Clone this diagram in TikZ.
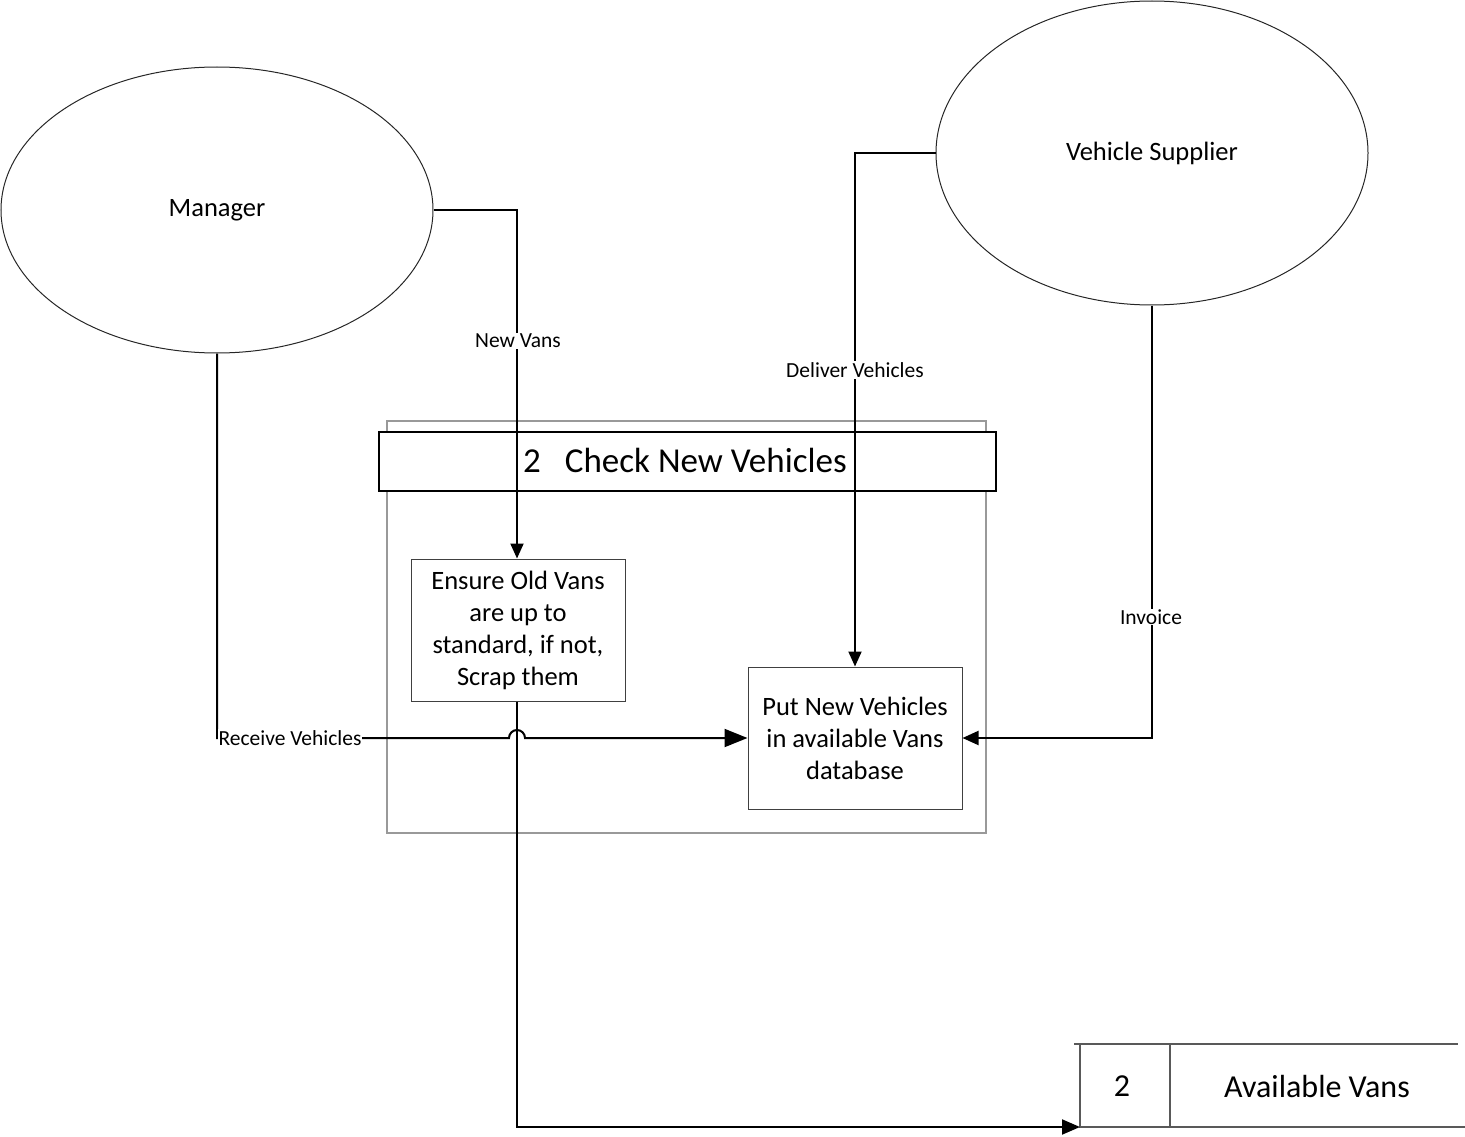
\documentclass[tikz,border=0pt]{standalone}
\usepackage{fontspec}
\setmainfont{Carlito}
\usetikzlibrary{arrows.meta,shapes.geometric}
\begin{document}
\begin{tikzpicture}[x=1pt,y=-1pt,
  entity/.style={draw=black!85,line width=1pt,ellipse,minimum width=432pt,inner sep=0pt,font=\fontsize{26.5}{32}\selectfont},
  procbox/.style={draw=black!75,line width=1pt,align=center,inner sep=0pt,font=\fontsize{26.5}{32}\selectfont},
  flow/.style={draw=black,line width=2pt},
  lbl/.style={fill=white,inner sep=1pt,font=\fontsize{21.5}{24}\selectfont},
  tipS/.style={-{Triangle[length=15pt,width=13pt]}},
  tipL/.style={-{Triangle[length=23pt,width=18pt]}},
]
\useasboundingbox (0,0) rectangle (1465,1137);
% entities
\node[entity,minimum height=286pt] (mgr) at (217,210) {Manager};
\node[entity,minimum height=304pt] (sup) at (1152,153) {Vehicle Supplier};
% process frame
\draw[draw=black!40,line width=2pt] (387,421) rectangle (986,833);
\node[draw=black,line width=2pt,fill=white,minimum width=617pt,minimum height=59pt,inner sep=0pt,anchor=north west] (hdr) at (378,431) {};
\node[anchor=base west,font=\fontsize{35}{40}\selectfont,inner sep=0pt] (hdrtxt) at (523,472) {2\hspace{24pt}Check New Vehicles};
% process boxes
\node[procbox,minimum width=214pt,minimum height=142pt] (ens) at (518,630) {Ensure Old Vans\\are up to\\standard, if not,\\Scrap them};
\node[procbox,minimum width=214pt,minimum height=142pt] (put) at (855,738) {Put New Vehicles\\in available Vans\\database};
% data store
\coordinate (dsTL) at (1074,1044);
\coordinate (dsTR) at (1458,1044);
\coordinate (dsL) at (1080,1127);
\coordinate (dsR) at (1465,1127);
\draw[draw=black!65,line width=1.5pt] (dsTL) -- (dsTR);
\draw[draw=black!65,line width=1.5pt] (1080,1044) -- (dsL) -- (dsR);
\draw[draw=black!65,line width=1.5pt] (1170,1044) -- (1170,1127);
\node[font=\fontsize{32}{36}\selectfont,inner sep=0pt] (dsnum) at (1122,1086) {2};
\node[font=\fontsize{32}{36}\selectfont,inner sep=0pt] (dsname) at (1317,1086) {Available Vans};
% flows
\draw[flow,tipS] (mgr.east) -- (517,210) -- (ens.north -| 517,0);
\draw[flow,tipS] (sup.west) -- (855,153) -- (put.north);
\draw[flow,-{Triangle[length=16pt,width=14pt]}] (sup.south) -- (1152,738) -- (put.east);
\draw[flow,tipL] (mgr.south) -- (217,738) -- (509,738) arc[start angle=180,end angle=360,radius=8] -- (put.west);
\draw[flow,-{Triangle[length=18pt,width=15pt]}] (ens.south -| 517,0) -- (517,1127) -- (dsL);
% labels
\node[lbl] (l1) at (518,341) {New Vans};
\node[lbl] (l2) at (855,370) {Deliver Vehicles};
\node[lbl] (l3) at (1151,617) {Invoice};
\node[lbl] (l4) at (290,738) {Receive Vehicles};
\end{tikzpicture}
\end{document}
